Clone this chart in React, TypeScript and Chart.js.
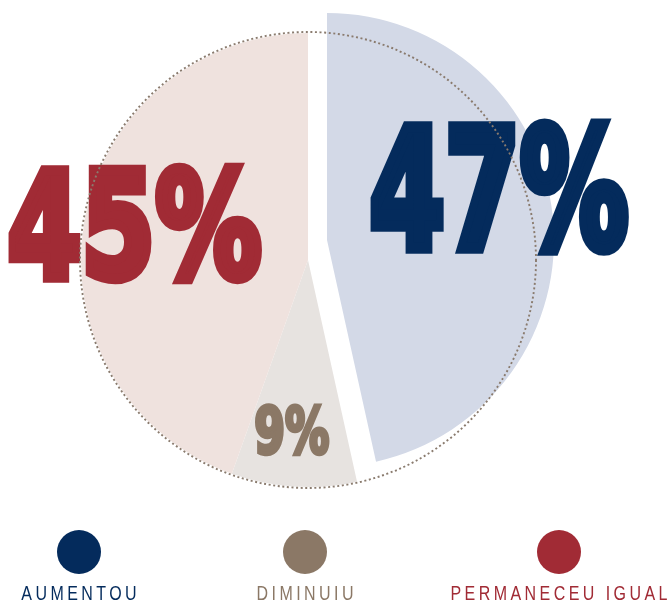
import React, { useEffect, useRef } from "react";
import { Chart, registerables } from "chart.js";

Chart.register(...registerables);

// ---- data ----
const categories = ["AUMENTOU", "DIMINUIU", "PERMANECEU IGUAL"];
const values = [47, 9, 45];

// ---- styles ----
const darkColors = ["#042b5c", "#8b7866", "#a12b35"];
const lightColors = ["#d3d9e7", "#e7e3e0", "#efe2de"];
const dotColor = "#8a7b6e";
// label boxes relative to pie centre, in units of radius: [dx, dy, w, h]
const labelBoxes = [
  [62 / 227, -142 / 227, 260 / 227, 137 / 227],
  [-53 / 227, 143 / 227, 75 / 227, 53 / 227],
  [-300 / 227, -98 / 227, 255 / 227, 122 / 227],
];
// the exploded first slice, relative to radius
const explode = [19 / 227, -20 / 227];
const legendX = [79, 305, 559];

function drawFitted(
  ctx: CanvasRenderingContext2D,
  text: string,
  color: string,
  x: number,
  y: number,
  w: number,
  h: number,
  stroke: number
) {
  ctx.save();
  ctx.font = "bold 100px 'DejaVu Sans', 'Liberation Sans', sans-serif";
  ctx.textAlign = "left";
  ctx.textBaseline = "alphabetic";
  const m = ctx.measureText(text);
  const tw = m.actualBoundingBoxLeft + m.actualBoundingBoxRight + stroke;
  const th = m.actualBoundingBoxAscent + m.actualBoundingBoxDescent + stroke;
  const sx = w / tw;
  const sy = h / th;
  ctx.translate(x, y);
  ctx.scale(sx, sy);
  ctx.translate(m.actualBoundingBoxLeft + stroke / 2, m.actualBoundingBoxAscent + stroke / 2);
  ctx.fillStyle = color;
  ctx.strokeStyle = color;
  ctx.lineWidth = stroke;
  ctx.lineJoin = "miter";
  ctx.fillText(text, 0, 0);
  ctx.strokeText(text, 0, 0);
  ctx.restore();
}

const decorPlugin = {
  id: "decor",
  afterDatasetsUpdate(chart: any) {
    const meta = chart.getDatasetMeta(0);
    const arc = meta.data[0];
    if (!arc) return;
    const R = arc.outerRadius;
    arc.x += explode[0] * R;
    arc.y += explode[1] * R;
  },
  afterDatasetsDraw(chart: any) {
    const ctx = chart.ctx as CanvasRenderingContext2D;
    const meta = chart.getDatasetMeta(0);
    const ref = meta.data[2];
    if (!ref) return;
    const cx = ref.x;
    const cy = ref.y;
    const R = ref.outerRadius;
    values.forEach((v, i) => {
      const b = labelBoxes[i];
      drawFitted(ctx, `${v}%`, darkColors[i], cx + b[0] * R, cy + b[1] * R, b[2] * R, b[3] * R, 7);
    });
    ctx.save();
    ctx.beginPath();
    ctx.arc(cx, cy, R + 1, 0, Math.PI * 2);
    ctx.setLineDash([2, 2.6]);
    ctx.lineWidth = 1.9;
    ctx.strokeStyle = dotColor;
    ctx.stroke();
    ctx.restore();
  },
};

export default function App() {
  const canvasRef = useRef<HTMLCanvasElement | null>(null);

  useEffect(() => {
    document.body.style.margin = "0";
    const canvas = canvasRef.current;
    if (!canvas) return;
    const chart = new Chart(canvas, {
      type: "pie",
      data: {
        labels: categories,
        datasets: [
          {
            data: values,
            backgroundColor: lightColors,
            borderWidth: 0,
            clip: false as any,
          },
        ],
      },
      options: {
        animation: false,
        responsive: true,
        maintainAspectRatio: false,
        layout: { padding: { left: 81, right: 134, top: 33, bottom: 117 } },
        plugins: {
          legend: { display: false },
          tooltip: { enabled: false },
        },
      },
      plugins: [decorPlugin],
    });
    return () => chart.destroy();
  }, []);

  return (
    <div style={{ position: "relative", width: 669, height: 604, background: "#fff", overflow: "hidden" }}>
      <canvas ref={canvasRef} />
      {categories.map((c, i) => (
        <div key={c}>
          <div
            style={{
              position: "absolute",
              left: legendX[i] - 22,
              top: 530,
              width: 44,
              height: 44,
              borderRadius: "50%",
              background: darkColors[i],
            }}
          />
          <div
            style={{
              position: "absolute",
              left: legendX[i] - 200,
              width: 400,
              top: 582,
              textAlign: "center",
              transform: "scaleX(0.8)",
              transformOrigin: "50% 50%",
              fontFamily: "'Liberation Sans', Arial, sans-serif",
              fontSize: 20,
              lineHeight: "22px",
              letterSpacing: "4.3px",
              textIndent: "4.3px",
              color: darkColors[i],
              whiteSpace: "nowrap",
            }}
          >
            {c}
          </div>
        </div>
      ))}
    </div>
  );
}
